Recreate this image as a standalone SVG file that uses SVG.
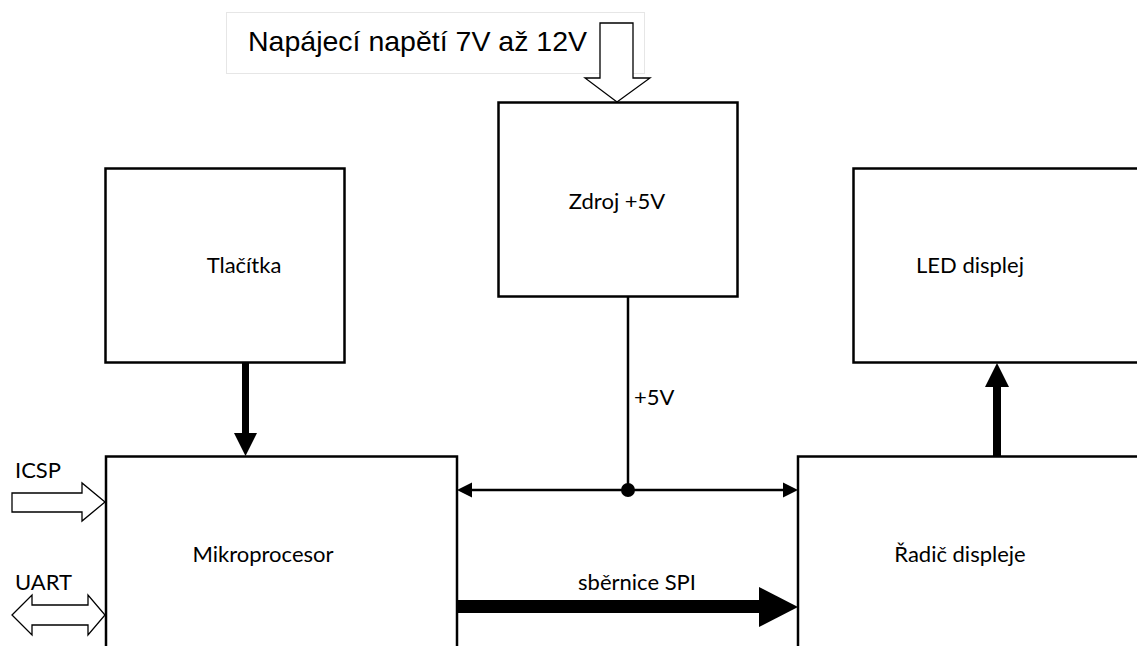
<svg xmlns="http://www.w3.org/2000/svg" width="1137" height="646" viewBox="0 0 1137 646">
<style>
.box{fill:#fff;stroke:#000;stroke-width:2.5}
.lbl{font-family:Lato,"Open Sans",sans-serif;font-size:22px;fill:#000;text-anchor:middle}
.sm{font-family:Lato,"Open Sans",sans-serif;font-size:22px;fill:#000}
.hollow{fill:#fff;stroke:#000;stroke-width:1.3;stroke-linejoin:miter}
.ln{stroke:#000;stroke-width:2.5;fill:none}
</style>
<rect width="1137" height="646" fill="#fff"/>
<g id="napajeni">
<rect x="226.5" y="12.5" width="418" height="61" fill="#fff" stroke="#e6e6e6" stroke-width="1"/>
<text x="248" y="51" style="font-family:'Liberation Sans',Arial,sans-serif;font-size:28.5px">Napájecí napětí 7V až 12V</text>
</g>
<g id="zdroj">
<rect class="box" x="498.5" y="102.5" width="239" height="194"/>
<text class="lbl" x="617" y="209">Zdroj +5V</text>
</g>
<g id="tlacitka">
<rect class="box" x="105.5" y="168.5" width="239" height="194"/>
<text class="lbl" x="244" y="273">Tlačítka</text>
</g>
<g id="led">
<rect class="box" x="853.5" y="168.5" width="300" height="194"/>
<text class="lbl" x="970" y="273">LED displej</text>
</g>
<g id="mikroprocesor">
<rect class="box" x="106" y="456.5" width="351" height="210"/>
<text class="lbl" x="263" y="562">Mikroprocesor</text>
</g>
<g id="radic">
<rect class="box" x="798" y="456.5" width="360" height="210"/>
<text class="lbl" x="960" y="562">Řadič displeje</text>
</g>
<g id="connectors">
<polygon class="hollow" points="600,23 633,23 633,78 650,78 617,102 585,78 600,78"/>
<line class="ln" x1="628" y1="296" x2="628" y2="490"/>
<circle cx="628" cy="490" r="7" fill="#000"/>
<line class="ln" x1="470" y1="490" x2="785" y2="490"/>
<polygon points="457,490 472,482.5 472,497.5" fill="#000"/>
<polygon points="798,490 783,482.5 783,497.5" fill="#000"/>
<rect x="457" y="600" width="304" height="13" fill="#000"/>
<polygon points="798,607 759,587 759,627" fill="#000"/>
<rect x="242" y="362" width="7" height="73" fill="#000"/>
<polygon points="234,433 257,433 245.5,456" fill="#000"/>
<rect x="993" y="385" width="8" height="72" fill="#000"/>
<polygon points="985,387 1009,387 997,363" fill="#000"/>
<polygon class="hollow" points="12,493 82,493 82,483 105,502 82,521 82,512 12,512"/>
<polygon class="hollow" points="12,615 32,595 32,605 88,605 88,595 105,615 88,635 88,625 32,625 32,635"/>
<text class="sm" x="634" y="405">+5V</text>
<text class="lbl" x="637" y="590">sběrnice SPI</text>
<text class="sm" x="15" y="478">ICSP</text>
<text class="sm" x="15" y="590">UART</text>
</g>
</svg>
